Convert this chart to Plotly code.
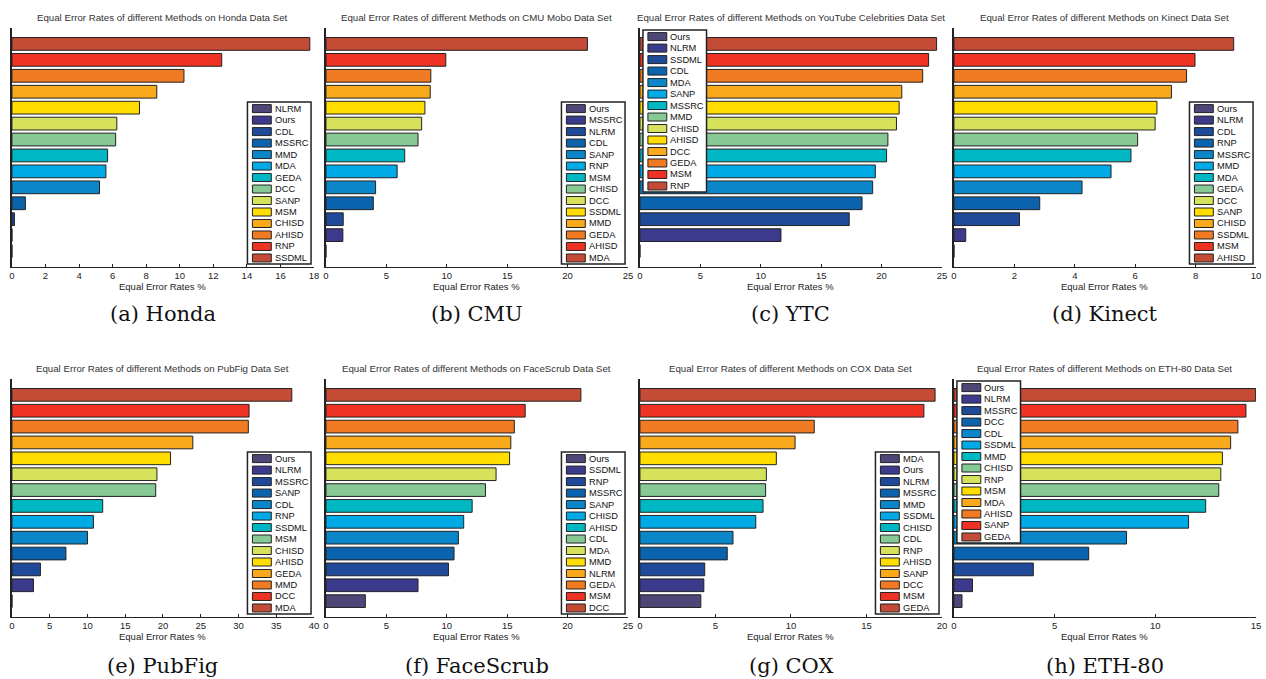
import plotly.graph_objects as go

W, H = 1266, 679

# 14 colours, bottom bar -> top bar
palette = ["#4d4778", "#3c3a8c", "#1f4a9a", "#0c63ad", "#0a86c9", "#00aae7", "#00b8c4",
           "#86c994", "#d6e15c", "#ffdd00", "#f9a91c", "#f07b22", "#ee3224", "#c44b36"]

# ---- data (methods listed bottom bar -> top bar, i.e. legend order) ----
honda_methods = ["NLRM", "Ours", "CDL", "MSSRC", "MMD", "MDA", "GEDA", "DCC", "SANP", "MSM",
                 "CHISD", "AHISD", "RNP", "SSDML"]
honda_eer = [0.0, 0.0, 0.15, 0.8, 5.22, 5.6, 5.7, 6.18, 6.25, 7.6, 8.63, 10.25, 12.5, 17.75]

cmu_methods = ["Ours", "MSSRC", "NLRM", "CDL", "SANP", "RNP", "MSM", "CHISD", "DCC", "SSDML",
               "MMD", "GEDA", "AHISD", "MDA"]
cmu_eer = [0.0, 1.4, 1.43, 3.92, 4.11, 5.89, 6.52, 7.62, 7.92, 8.19, 8.63, 8.68, 9.92, 21.64]

ytc_methods = ["Ours", "NLRM", "SSDML", "CDL", "MDA", "SANP", "MSSRC", "MMD", "CHISD", "AHISD",
               "DCC", "GEDA", "MSM", "RNP"]
ytc_eer = [0.0, 11.67, 17.32, 18.38, 19.26, 19.48, 20.41, 20.52, 21.23, 21.45, 21.67, 23.4,
           23.89, 24.55]

kinect_methods = ["Ours", "NLRM", "CDL", "RNP", "MSSRC", "MMD", "MDA", "GEDA", "DCC", "SANP",
                  "CHISD", "SSDML", "MSM", "AHISD"]
kinect_eer = [0.0, 0.39, 2.17, 2.84, 4.24, 5.2, 5.86, 6.08, 6.66, 6.72, 7.2, 7.7, 7.98, 9.26]

pubfig_methods = ["Ours", "NLRM", "MSSRC", "SANP", "CDL", "RNP", "SSDML", "MSM", "CHISD",
                  "AHISD", "GEDA", "MMD", "DCC", "MDA"]
pubfig_eer = [0.0, 2.85, 3.77, 7.15, 10.0, 10.79, 12.02, 19.04, 19.2, 21.0, 23.95, 31.3,
              31.4, 37.06]

facescrub_methods = ["Ours", "SSDML", "RNP", "MSSRC", "SANP", "CHISD", "AHISD", "CDL", "MDA",
                     "MMD", "NLRM", "GEDA", "MSM", "DCC"]
facescrub_eer = [3.26, 7.62, 10.14, 10.6, 10.96, 11.4, 12.1, 13.2, 14.08, 15.2, 15.3, 15.59,
                 16.49, 21.1]

cox_methods = ["MDA", "Ours", "NLRM", "MSSRC", "MMD", "SSDML", "CHISD", "CDL", "RNP", "AHISD",
               "SANP", "DCC", "MSM", "GEDA"]
cox_eer = [4.03, 4.23, 4.29, 5.78, 6.16, 7.67, 8.15, 8.32, 8.37, 9.03, 10.27, 11.54, 18.8,
           19.54]

eth_methods = ["Ours", "NLRM", "MSSRC", "DCC", "CDL", "SSDML", "MMD", "CHISD", "RNP", "MSM",
               "MDA", "AHISD", "SANP", "GEDA"]
eth_eer = [0.4, 0.92, 3.94, 6.69, 8.57, 11.65, 12.5, 13.15, 13.25, 13.33, 13.74, 14.1, 14.5,
           14.98]

titles = ["Honda", "CMU Mobo", "YouTube Celebrities", "Kinect",
          "PubFig", "FaceScrub", "COX", "ETH-80"]
captions = ["(a) Honda", "(b) CMU", "(c) YTC", "(d) Kinect",
            "(e) PubFig", "(f) FaceScrub", "(g) COX", "(h) ETH-80"]
x_max = [18, 25, 25, 10, 40, 25, 20, 15]
x_step = [2, 5, 5, 2, 5, 5, 5, 5]
legend_loc = ["br", "br", "tl", "br", "br", "br", "br", "tl"]

methods_all = [honda_methods, cmu_methods, ytc_methods, kinect_methods,
               pubfig_methods, facescrub_methods, cox_methods, eth_methods]
values_all = [honda_eer, cmu_eer, ytc_eer, kinect_eer,
              pubfig_eer, facescrub_eer, cox_eer, eth_eer]

# ---- layout geometry (pixels) ----
PANEL_W = 304
COL_X0 = [9 + 316 * c for c in range(4)]
ROW_Y = [(28, 267), (379, 617)]          # (top, bottom) of plot area
TITLE_Y = [17, 368]
XLAB_Y = [286, 636]
CAP_Y = [314, 666]

FONT = "Liberation Sans, Arial, sans-serif"
INK = "#222222"


def px(x):
    return x / W


def py(y):
    return 1 - y / H


fig = go.Figure()
layout = dict(width=W, height=H, margin=dict(l=0, r=0, t=0, b=0),
              paper_bgcolor="white", plot_bgcolor="white", showlegend=False,
              bargap=0.2, font=dict(family=FONT, color=INK))
annotations = []
shapes = []

for i in range(8):
    r, c = divmod(i, 4)
    x0p = COL_X0[c]
    x1p = x0p + PANEL_W
    top, bot = ROW_Y[r]
    sfx = "" if i == 0 else str(i + 1)
    xa, ya = "x" + sfx, "y" + sfx
    methods = methods_all[i]
    vals = values_all[i]
    pos = list(range(1, len(vals) + 1))

    fig.add_trace(go.Bar(
        x=vals, y=pos, orientation="h", width=0.8,
        marker=dict(color=palette[:len(vals)], line=dict(color=INK, width=1)),
        xaxis=xa, yaxis=ya, text=methods, hovertemplate="%{text}: %{x}<extra></extra>",
        textposition="none"))

    layout["xaxis" + sfx] = dict(
        domain=[px(x0p), px(x1p)], anchor=ya, range=[0, x_max[i]],
        tick0=0, dtick=x_step[i], ticks="inside", ticklen=3, tickcolor=INK,
        showline=True, linecolor=INK, linewidth=1, showgrid=False, zeroline=False,
        ticklabeloverflow="allow",
        tickfont=dict(size=9.5, color=INK, family=FONT), fixedrange=True)
    layout["yaxis" + sfx] = dict(
        domain=[py(bot), py(top)], anchor=xa, range=[0, len(vals) + 1],
        showticklabels=False, ticks="", showline=True, linecolor=INK, linewidth=1.5,
        showgrid=False, zeroline=False, fixedrange=True)

    cx = (x0p + x1p) / 2
    annotations.append(dict(
        text=f"Equal Error Rates of different Methods on {titles[i]} Data Set",
        x=px(cx), y=py(TITLE_Y[r]), xref="paper", yref="paper", showarrow=False,
        xanchor="center", yanchor="middle", font=dict(size=9.7, color="#333333", family=FONT)))
    annotations.append(dict(
        text="Equal Error Rates %", x=px(cx), y=py(XLAB_Y[r]), xref="paper", yref="paper",
        showarrow=False, xanchor="center", yanchor="middle",
        font=dict(size=9.5, color=INK, family=FONT)))
    annotations.append(dict(
        text=captions[i], x=px(cx), y=py(CAP_Y[r]), xref="paper", yref="paper",
        showarrow=False, xanchor="center", yanchor="middle",
        font=dict(size=21, color="#111111", family="DejaVu Serif, serif")))

    # legend box
    LW, LH = 64, 162
    if legend_loc[i] == "br":
        lx1 = x1p - 3
        lx0 = lx1 - LW
        ly1 = bot - 3
        ly0 = ly1 - LH
    else:
        lx0 = x0p + 3
        lx1 = lx0 + LW
        ly0 = top + 2
        ly1 = ly0 + LH
    shapes.append(dict(type="rect", xref="paper", yref="paper",
                       x0=px(lx0), x1=px(lx1), y0=py(ly1), y1=py(ly0),
                       fillcolor="white", line=dict(color=INK, width=1.5), layer="above"))
    for k, name in enumerate(methods):
        cy = ly0 + 6.6 + 11.49 * k
        shapes.append(dict(type="rect", xref="paper", yref="paper",
                           x0=px(lx0 + 5), x1=px(lx0 + 24), y0=py(cy + 4), y1=py(cy - 4),
                           fillcolor=palette[k], line=dict(color=INK, width=1), layer="above"))
        annotations.append(dict(
            text=name, x=px(lx0 + 25.5), y=py(cy), xref="paper", yref="paper",
            showarrow=False, xanchor="left", yanchor="middle",
            font=dict(size=9.3, color="#111111", family=FONT)))

layout["annotations"] = annotations
layout["shapes"] = shapes
fig.update_layout(**layout)
fig.write_html("out.html", config={"displayModeBar": False},
               post_script="document.body.style.margin='0px';document.body.style.overflow='hidden';")
